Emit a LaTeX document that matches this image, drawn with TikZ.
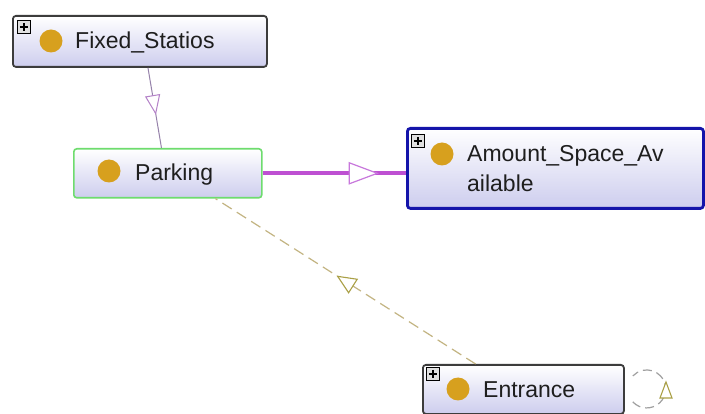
\documentclass[tikz,border=0pt]{standalone}
\usepackage{fontspec}
\setmainfont{Liberation Sans}
\usetikzlibrary{decorations.markings}
\definecolor{lav}{RGB}{205,205,238}
\definecolor{gold}{RGB}{215,160,30}
\definecolor{boxgray}{RGB}{60,60,60}
\definecolor{pgreen}{RGB}{110,220,110}
\definecolor{ablue}{RGB}{20,20,170}
\definecolor{subline}{RGB}{150,130,170}
\definecolor{subtri}{RGB}{180,130,200}
\definecolor{objline}{RGB}{190,80,210}
\definecolor{objtri}{RGB}{200,120,220}
\definecolor{dashline}{RGB}{195,180,130}
\definecolor{dashtri}{RGB}{170,160,70}
\definecolor{loopline}{RGB}{160,160,160}
\definecolor{txt}{RGB}{30,30,30}
\tikzset{
  cls/.style={rectangle, rounded corners=3pt, top color=white, bottom color=lav, inner sep=0pt, anchor=north west},
  dot/.style={circle, fill=gold, minimum size=23pt, inner sep=0pt},
  plusbox/.style={rectangle, draw=black, fill=black!12, line width=0.7pt, minimum size=13pt, inner sep=0pt, anchor=north west,
    path picture={\draw[line width=1.4pt] ([xshift=2.5pt]path picture bounding box.west) -- ([xshift=-2.5pt]path picture bounding box.east);
                  \draw[line width=1.4pt] ([yshift=-2.5pt]path picture bounding box.north) -- ([yshift=2.5pt]path picture bounding box.south);}},
  lbl/.style={anchor=base west, inner sep=0pt, text=txt, font=\fontsize{23}{28}\selectfont},
  midtri/.style n args={5}{postaction={decorate}, decoration={markings, mark=at position #1 with {\draw[draw=#4, fill=white, line width=#5, solid] (0pt,0pt) -- (-#2,#3) -- (-#2,-#3) -- cycle;}}}
}
\begin{document}
\begin{tikzpicture}[x=1pt, y=-1pt]
\useasboundingbox (0,0) rectangle (705,414);
\fill[white] (0,0) rectangle (705,414);

% boxes
\node[cls, draw=boxgray, line width=1.8pt, minimum width=254pt, minimum height=51pt] (fixed) at (12,15) {};
\node[cls, draw=pgreen, line width=1.6pt, minimum width=188pt, minimum height=49pt] (parking) at (73,148) {};
\node[cls, draw=ablue, line width=2.8pt, minimum width=296pt, minimum height=80pt] (amount) at (406,127) {};
\node[cls, draw=boxgray, line width=1.8pt, minimum width=201pt, minimum height=49pt] (entrance) at (422,364) {};

% plus boxes
\node[plusbox] (pfixed) at (17,20) {};
\node[plusbox] (pamount) at (411,134) {};
\node[plusbox] (pentrance) at (426,367) {};

% dots
\node[dot] (dfixed) at (51,41) {};
\node[dot] (dparking) at (109,171) {};
\node[dot] (damount) at (442,154) {};
\node[dot] (dentrance) at (458,389) {};

% labels
\node[lbl] (tfixed) at (75,49) {Fixed\_Statios};
\node[lbl] (tparking) at (135,181) {Parking};
\node[lbl] (tamount1) at (467,162) {Amount\_Space\_Av};
\node[lbl] (tamount2) at (467,192) {ailable};
\node[lbl] (tentrance) at (483,397) {Entrance};

% edges
\draw[subline, line width=1pt, midtri={0.57}{18pt}{7pt}{subtri}{1pt}] (fixed.-73) -- (parking.104);
\draw[objline, line width=4pt, midtri={0.80}{28pt}{10.5pt}{objtri}{1.2pt}] (parking.east) -- (parking.east -| amount.west);
\draw[dashline, line width=1.2pt, dash pattern=on 11pt off 6pt, midtri={0.53}{18pt}{8pt}{dashtri}{1.1pt}] (entrance.152) -- (parking.-28);
% self loop on Entrance
\coordinate (loopstart) at ([xshift=8pt, yshift=-12.5pt]entrance.east);
\draw[loopline, line width=1.2pt, dash pattern=on 9pt off 5pt] (loopstart) arc[start angle=137, end angle=-137, radius=19];
\draw[dashtri, fill=white, line width=1.1pt] (666,382) -- (672,398) -- (660,398) -- cycle;
\end{tikzpicture}
\end{document}
